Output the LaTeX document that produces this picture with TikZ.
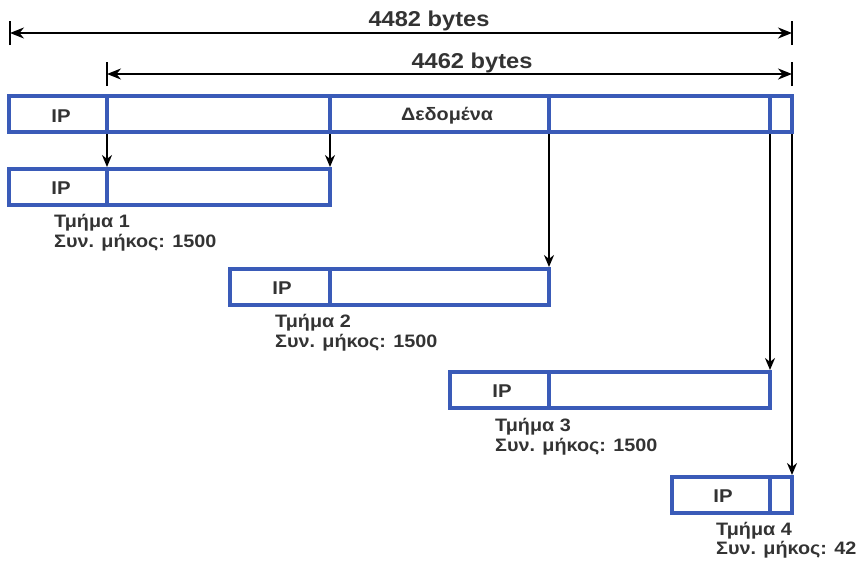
\documentclass[tikz,border=0pt]{standalone}
\usepackage{fontspec}
\setmainfont[FakeStretch=1.1]{Liberation Sans}
\usetikzlibrary{arrows.meta,calc}
\definecolor{bbar}{HTML}{3A5BB8}
\definecolor{txt}{HTML}{333333}
\begin{document}
\begin{tikzpicture}[x=1pt,y=-1pt,
  box/.style={draw=bbar,line width=4pt,rectangle,anchor=north west,inner sep=0pt,outer sep=0pt,minimum height=36pt},
  div/.style={draw=bbar,line width=4pt},
  arr/.style={draw=black,line width=1.9pt,-{Stealth[length=12pt,width=10pt]}},
  dim/.style={line width=1.9pt,{Stealth[length=14pt,width=11pt]}-{Stealth[length=14pt,width=11pt]}},
  tickl/.style={line width=1.9pt},
  lbl/.style={font=\bfseries\fontsize{18}{20}\selectfont,text=txt,anchor=base west,inner sep=0pt},
  dimlbl/.style={font=\bfseries\fontsize{21.5}{24}\selectfont,text=txt,inner sep=0pt,anchor=base},
  ip/.style={font=\bfseries\fontsize{18.5}{20}\selectfont,text=txt,inner sep=0pt}]
\useasboundingbox (0,0) rectangle (863,562);

% main bar and fragments
\node[box,minimum width=783pt] (main) at (9,96) {};
\node[box,minimum width=321pt] (s1) at (9,169) {};
\node[box,minimum width=319pt] (s2) at (230,269) {};
\node[box,minimum width=320pt] (s3) at (450,372) {};
\node[box,minimum width=120pt] (s4) at (672,477) {};

% divider positions
\coordinate (d1) at (107,0);
\coordinate (d2) at (330,0);
\coordinate (d3) at (549,0);
\coordinate (d4) at (770,0);

\draw[div] (main.north -| d1) -- (main.south -| d1);
\draw[div] (main.north -| d2) -- (main.south -| d2);
\draw[div] (main.north -| d3) -- (main.south -| d3);
\draw[div] (main.north -| d4) -- (main.south -| d4);
\draw[div] (s1.north -| d1) -- (s1.south -| d1);
\draw[div] (s2.north -| d2) -- (s2.south -| d2);
\draw[div] (s3.north -| d3) -- (s3.south -| d3);
\draw[div] (s4.north -| d4) -- (s4.south -| d4);

% texts in boxes
\node[ip] (ipm) at (61,116) {IP};
\node[ip,font=\bfseries\fontsize{18}{20}\selectfont] (data) at (447,116) {Δεδομένα};
\node[ip] (ip1) at (61,188) {IP};
\node[ip] (ip2) at (282,288) {IP};
\node[ip] (ip3) at (502,391) {IP};
\node[ip] (ip4) at (723,496) {IP};

% labels
\node[lbl] (l1a) at (54,227) {Τμήμα 1};
\node[lbl] (l1b) at (54,247) {Συν. μήκος: 1500};
\node[lbl] (l2a) at (275,327) {Τμήμα 2};
\node[lbl] (l2b) at (275,347) {Συν. μήκος: 1500};
\node[lbl] (l3a) at (495,431) {Τμήμα 3};
\node[lbl] (l3b) at (495,451) {Συν. μήκος: 1500};
\node[lbl] (l4a) at (716,535) {Τμήμα 4};
\node[lbl] (l4b) at (716,554) {Συν. μήκος: 42};

% arrows
\draw[arr] ([yshift=-2pt]main.south -| d1) -- ([yshift=2pt]s1.north -| d1);
\draw[arr] ([yshift=-2pt]main.south -| d2) -- ([yshift=2pt]s1.north east);
\draw[arr] ([yshift=-2pt]main.south -| d3) -- ([yshift=2pt]s2.north east);
\draw[arr] ([yshift=-2pt]main.south -| d4) -- ([yshift=2pt]s3.north east);
\draw[arr] ([yshift=-2pt]main.south east) -- ([yshift=2pt]s4.north east);

% dimension lines
\coordinate (a1) at (10,33);
\coordinate (a2) at (792,33);
\coordinate (b1) at (107,74);
\coordinate (b2) at (792,74);
\draw[tickl] ([yshift=-12pt]a1) -- ([yshift=12pt]a1);
\draw[tickl] ([yshift=-12pt]a2) -- ([yshift=12pt]a2);
\draw[tickl] ([yshift=-12pt]b1) -- ([yshift=12pt]b1);
\draw[tickl] ([yshift=-12pt]b2) -- ([yshift=12pt]b2);
\draw[dim] (a1) -- (a2);
\draw[dim] (b1) -- (b2);
\node[dimlbl] (t1) at (429,27) {4482 bytes};
\node[dimlbl] (t2) at (472,68) {4462 bytes};
\end{tikzpicture}
\end{document}
